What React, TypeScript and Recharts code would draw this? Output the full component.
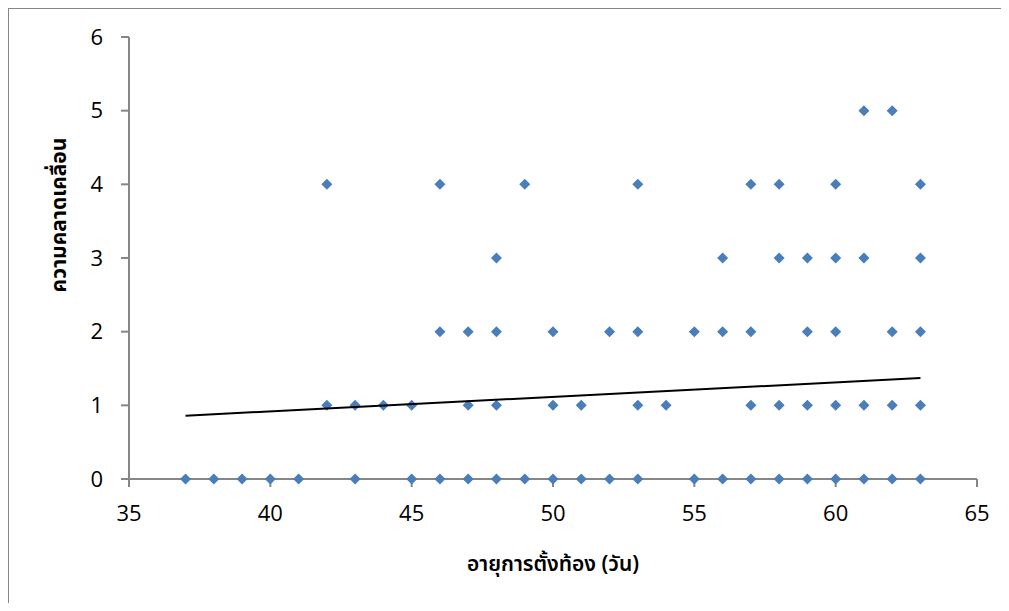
import { ScatterChart, Scatter, XAxis, YAxis, Label } from 'recharts'

const xTicks = [35, 40, 45, 50, 55, 60, 65]
const yTicks = [0, 1, 2, 3, 4, 5, 6]

// gestational age (days) observed at each error level
const agesAt0 = [37, 38, 39, 40, 41, 43, 45, 46, 47, 48, 49, 50, 51, 52, 53, 55, 56, 57, 58, 59, 60, 61, 62, 63]
const agesAt1 = [42, 43, 44, 45, 47, 48, 50, 51, 53, 54, 57, 58, 59, 60, 61, 62, 63]
const agesAt2 = [46, 47, 48, 50, 52, 53, 55, 56, 57, 59, 60, 62, 63]
const agesAt3 = [48, 56, 58, 59, 60, 61, 63]
const agesAt4 = [42, 46, 49, 53, 57, 58, 60, 63]
const agesAt5 = [61, 62]

const trendAges = [37, 63]
const trendValues = [0.86, 1.37]

const levels = [agesAt0, agesAt1, agesAt2, agesAt3, agesAt4, agesAt5]
const points = levels.flatMap((ages, err) => ages.map(age => ({ age, err })))
const trend = trendAges.map((age, i) => ({ age, err: trendValues[i] }))

const AXIS = '#868686'
const BLUE = '#4a7ebb'
const THAI = '"Noto Sans Thai", "Noto Sans", Tahoma, sans-serif'
const NUM = '"Open Sans", sans-serif'

function Diamond(props: any) {
  const { cx, cy } = props
  if (cx == null || cy == null) return null
  const r = 5.5
  return (
    <polygon
      points={`${cx},${cy - r} ${cx + r},${cy} ${cx},${cy + r} ${cx - r},${cy}`}
      fill={BLUE}
    />
  )
}

function XTitle(props: any) {
  const vb = props.viewBox
  return (
    <text
      x={vb.x + vb.width / 2}
      y={vb.y + 92}
      textAnchor="middle"
      fontFamily={THAI}
      fontSize={21}
      fontWeight={600}
      fill="#000"
    >
      อายุการตั้งท้อง (วัน)
    </text>
  )
}

function YTitle(props: any) {
  const vb = props.viewBox
  const x = vb.x + 57
  const y = 206
  return (
    <text
      x={x}
      y={y}
      transform={`rotate(-90 ${x} ${y})`}
      textAnchor="middle"
      fontFamily={THAI}
      fontSize={21}
      fontWeight={700}
      fill="#000"
    >
      ความคลาดเคลื่อน
    </text>
  )
}

export default function App() {
  return (
    <div
      style={{
        width: 1001,
        height: 595,
        boxSizing: 'border-box',
        borderLeft: `1px solid ${AXIS}`,
        borderTop: `1px solid ${AXIS}`,
        background: '#fff',
        overflow: 'hidden',
      }}
    >
      <ScatterChart
        width={1000}
        height={594}
        style={{ outline: 'none' }}
        margin={{ top: 28, right: 32, bottom: 0, left: 0 }}
      >
        <XAxis
          type="number"
          dataKey="age"
          domain={[35, 65]}
          ticks={xTicks}
          allowDataOverflow
          height={124}
          tickSize={8}
          tickMargin={18}
          axisLine={{ stroke: AXIS, strokeWidth: 2 }}
          tickLine={{ stroke: AXIS, strokeWidth: 2 }}
          tick={{ fill: '#000', fontSize: 22, fontFamily: NUM }}
        >
          <Label content={<XTitle />} />
        </XAxis>
        <YAxis
          type="number"
          dataKey="err"
          domain={[0, 6]}
          ticks={yTicks}
          width={120}
          tickSize={8}
          tickMargin={18}
          axisLine={{ stroke: AXIS, strokeWidth: 2 }}
          tickLine={{ stroke: AXIS, strokeWidth: 2 }}
          tick={{ fill: '#000', fontSize: 22, fontFamily: NUM }}
        >
          <Label content={<YTitle />} />
        </YAxis>
        <Scatter
          data={points}
          shape={<Diamond />}
          isAnimationActive={false}
        />
        <Scatter
          data={trend}
          line={{ stroke: '#000', strokeWidth: 2 }}
          shape={() => <g />}
          isAnimationActive={false}
        />
      </ScatterChart>
    </div>
  )
}
